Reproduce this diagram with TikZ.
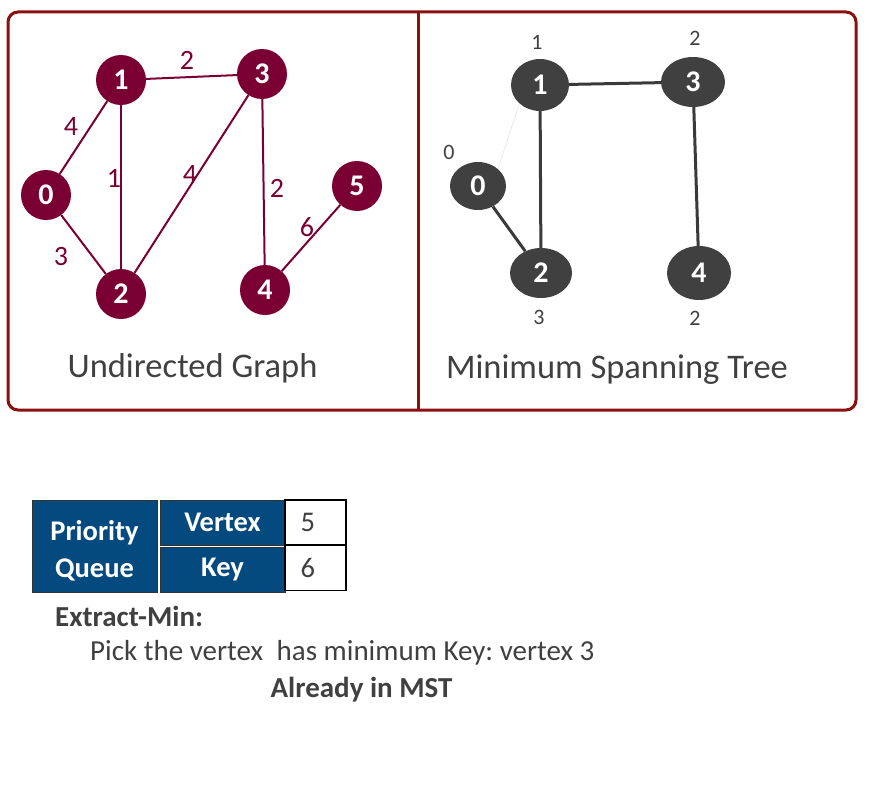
\documentclass[tikz,border=0pt]{standalone}
\usepackage{fontspec}
\setmainfont{Carlito}
\frenchspacing
\usetikzlibrary{positioning,shapes.geometric}
\definecolor{maroon}{RGB}{122,0,51}
\definecolor{framered}{RGB}{139,16,16}
\definecolor{treegray}{RGB}{64,64,64}
\definecolor{pqblue}{RGB}{4,74,127}
\definecolor{textgray}{RGB}{64,64,64}
\begin{document}
\begin{tikzpicture}[x=1pt, y=-1pt,
    gnode/.style={circle, fill=maroon, text=white, minimum size=50pt, inner sep=0pt, font=\fontsize{30}{30}\selectfont\bfseries},
    tnode/.style={ellipse, fill=treegray, text=white, inner sep=0pt, font=\fontsize{30}{30}\selectfont\bfseries},
    gedge/.style={draw=maroon, line width=2pt},
    tedge/.style={draw=treegray!90!black, line width=3pt},
    wlab/.style={midway, text=maroon, inner sep=0pt, font=\fontsize{28}{28}\selectfont},
    keylab/.style={text=textgray, font=\fontsize{22}{22}\selectfont},
    title/.style={anchor=base, text=textgray, inner sep=0pt, font=\fontsize{34.5}{34.5}\selectfont},
    pqbox/.style={draw=black!80, fill=pqblue, text=white, line width=1pt, inner sep=0pt, align=center, font=\fontsize{28.5}{37}\selectfont\bfseries},
    valbox/.style={draw=black, fill=white, line width=1.5pt, minimum width=61pt, minimum height=45pt, text width=30pt, align=left, text=textgray, font=\fontsize{28.5}{28.5}\selectfont},
    note/.style={text=textgray, inner sep=0pt, font=\fontsize{29}{29}\selectfont}]
  \useasboundingbox (0,0) rectangle (869,800);
  % frames
  \draw[framered, line width=3pt, rounded corners=10pt] (8,12) rectangle (856,410);
  \draw[framered, line width=3pt] (418,12) -- (418,410);
  % undirected graph
  \node[gnode] (g0) at (46,195) {0};
  \node[gnode] (g1) at (121,80) {1};
  \node[gnode] (g2) at (121,294) {2};
  \node[gnode] (g3) at (262,74) {3};
  \node[gnode] (g4) at (265,290) {4};
  \node[gnode] (g5) at (357,186) {5};
  \draw[gedge] (g1) -- node[wlab, xshift=-4.5pt, yshift=17pt] {2} (g3);
  \draw[gedge] (g0) -- node[wlab, xshift=-12.5pt, yshift=10.5pt] {4} (g1);
  \draw[gedge] (g1) -- node[wlab, xshift=-7pt, yshift=9pt] {1} (g2);
  \draw[gedge] (g2) -- node[wlab, xshift=-1.5pt, yshift=9pt] {4} (g3);
  \draw[gedge] (g3) -- node[wlab, xshift=13.5pt, yshift=-6pt] {2} (g4);
  \draw[gedge] (g4) -- node[wlab, xshift=-4pt, yshift=11pt] {6} (g5);
  \draw[gedge] (g0) -- node[wlab, xshift=-22.5pt, yshift=-12.5pt] {3} (g2);
  \node[title] (ug) at (192.5,377) {Undirected Graph};
  % minimum spanning tree
  \node[tnode, minimum width=58pt, minimum height=52pt] (t1) at (540,85) {1};
  \node[tnode, minimum width=64pt, minimum height=50pt] (t3) at (693,82) {3};
  \node[tnode, minimum width=56pt, minimum height=48pt] (t0) at (478,186) {0};
  \node[tnode, minimum width=62pt, minimum height=50pt] (t2) at (541,273) {2};
  \node[tnode, minimum width=64pt, minimum height=54pt] (t4) at (699,273) {4};
  \draw[black!12, line width=0.5pt] (t0.north east) -- (t1.south west);
  \draw[tedge] (t1) -- (t3);
  \draw[tedge] (t1) -- (t2);
  \draw[tedge] (t3) -- (t4);
  \draw[tedge] (t0) -- (t2);
  \node[keylab] (k1) at (537,42) {1};
  \node[keylab] (k3) at (695,38) {2};
  \node[keylab] (k0) at (449,152) {0};
  \node[keylab] (k2) at (539,317) {3};
  \node[keylab] (k4) at (695,318) {2};
  \node[title] (mst) at (617,378) {Minimum Spanning Tree};
  % priority queue
  \node[pqbox, minimum width=125pt, minimum height=92pt] (pq) at (94.5,546) {};
  \node[pqbox, draw=none, fill=none] (pqt) at (94.5,551) {Priority\\Queue};
  \node[pqbox, minimum width=125pt, minimum height=45pt] (pqv) at (222.5,522.5) {Vertex};
  \node[pqbox, minimum width=125pt, minimum height=45pt] (pqk) at (222.5,569.5) {Key};
  \node[valbox] (v5) at (315.5,522.5) {5};
  \node[valbox] (v6) at (315.5,568) {6};
  \node[note, anchor=base west, font=\fontsize{29}{29}\selectfont\bfseries] (em) at (55,626) {Extract-Min:};
  \node[note, anchor=base west] (pick) at (90,660) {Pick the vertex\hspace{7pt} has minimum Key: vertex 3};
  \node[note, anchor=base, font=\fontsize{29}{29}\selectfont\bfseries] (aim) at (361.5,697) {Already in MST};
\end{tikzpicture}
\end{document}
